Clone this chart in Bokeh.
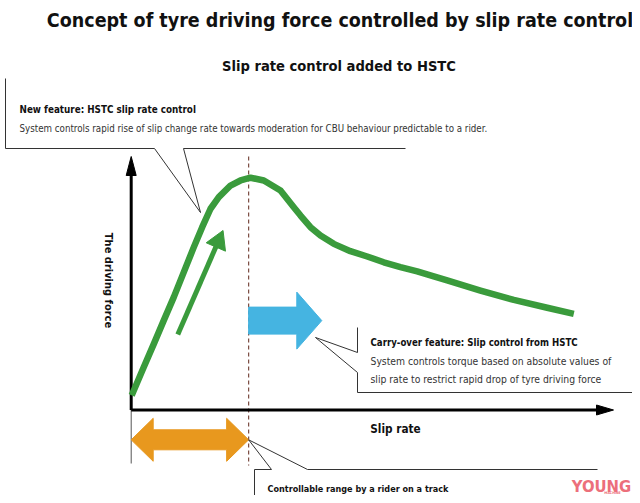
import numpy as np
from bokeh.plotting import figure
from bokeh.models import Range1d
from bokeh.core.properties import value
from bokeh.embed import file_html
from bokeh.resources import INLINE

# ---------------- data (conceptual units: 0..100 along each axis) ----------------
slip_rate = [0.10, 0.54, 2.62, 4.70, 6.77, 8.85, 10.93, 13.01, 14.75, 16.48, 18.20,
             20.63, 22.71, 24.79, 27.55, 31.02, 33.78, 35.18, 37.25, 39.33, 42.09,
             45.55, 49.03, 52.48, 55.94, 59.42, 62.87, 65.65, 72.57, 79.49, 86.43, 91.96]
driving_force = [5.8, 7.7, 17.0, 26.2, 35.5, 44.7, 54.6, 64.5, 72.4, 79.7, 84.3,
                 88.9, 90.9, 92.0, 90.9, 86.9, 80.3, 77.0, 72.4, 69.1, 65.8,
                 62.9, 60.8, 58.5, 56.6, 54.9, 52.9, 51.3, 47.3, 43.6, 40.5, 38.1]
peak_slip = 24.4                       # slip rate at peak driving force (dashed line)
controllable_range = [0.0, peak_slip]  # range controllable by rider
rise_arrow_slip = [9.68, 19.08]        # green "rise" arrow (tail, tip)
rise_arrow_force = [29.9, 71.1]
carry_arrow_slip = [peak_slip, 39.6]   # blue arrow (start, tip)
carry_arrow_force = 35.4

title_text = "Concept of tyre driving force controlled by slip rate control"
subtitle_text = "Slip rate control added to HSTC"
x_label = "Slip rate"
y_label = "The driving force"
new_head = "New feature: HSTC slip rate control"
new_body = "System controls rapid rise of slip change rate towards moderation for CBU behaviour predictable to a rider."
carry_head = "Carry-over feature: Slip control from HSTC"
carry_body = ["System controls torque based on absolute values of",
              "slip rate to restrict rapid drop of tyre driving force"]
range_text = "Controllable range by a rider on a track"

# ---------------- layout helpers (reference pixel <-> data units) ----------------
X0, Y0 = 130.7, 409.5
SX, SY = (612 - X0) / 100.0, (Y0 - 157) / 100.0
def px(X): return (X - X0) / SX
def py(Y): return (Y0 - Y) / SY
def dx(d): return d / SX
def dy(d): return d / SY
def upx(u): return X0 + u * SX
def upy(v): return Y0 - v * SY

FONT = "DejaVu Sans Condensed"
GREEN = "#3a9b3c"
BLUE = "#45b4e1"
ORANGE = "#e8981e"
LINE = "#333333"

W, H = 632, 495
p = figure(width=W, height=H, output_backend="svg", toolbar_location=None,
           x_range=Range1d(px(0), px(W)), y_range=Range1d(py(H), py(0)),
           min_border=0, outline_line_color=None)
p.axis.visible = False
p.grid.visible = False
p.background_fill_color = "white"
p.border_fill_color = "white"

def txt(x, y, s, size, bold=False, align="left", color="#111111", angle=0.0):
    p.text(x=[x], y=[y], text=[s], text_font=value(FONT), text_font_size=size,
           text_font_style="bold" if bold else "normal", text_align=align,
           text_baseline="middle", text_color=color, angle=angle)

# titles
txt(px(339.5), py(20), title_text, "19.5px", bold=True, align="center")
txt(px(338.5), py(65), subtitle_text, "14.6px", bold=True, align="center")

# callout 1 (new feature)
p.line([px(5), px(5), px(154), px(200), px(183), px(405)],
       [py(78), py(148), py(148), py(212), py(148), py(148)], line_color=LINE, line_width=1)
txt(px(19), py(109), new_head, "9.8px", bold=True)
txt(px(19), py(128), new_body, "9.7px", color="#333333")

# dashed peak line
p.line([peak_slip, peak_slip], [py(156), py(465)], line_color="#7a4a40", line_width=1.2,
       line_dash="4 3")

# thin guide at origin below x axis
p.line([0, 0], [0, py(463)], line_color="#555555", line_width=1)

# axes
p.line([0, 0], [0, py(172)], line_color="black", line_width=3)
p.patch([px(X0 - 5), px(X0), px(X0 + 5)], [py(175), py(156), py(175)], color="black")
p.line([0, px(598)], [0, 0], line_color="black", line_width=3)
p.patch([px(596), px(613), px(596)], [py(404.5), py(409.5), py(414.5)], color="black")
txt(px(395), py(428), x_label, "11.7px", bold=True, align="center")
txt(px(108), py(280), y_label, "11px", bold=True, align="center", angle=-np.pi / 2)

# main curve
p.line(slip_rate, driving_force, line_color=GREEN, line_width=6.5, line_join="round",
       line_cap="butt")

# green rise arrow (shaft + triangular head)
tx0, ty0 = upx(rise_arrow_slip[0]), upy(rise_arrow_force[0])
tx1, ty1 = upx(rise_arrow_slip[1]), upy(rise_arrow_force[1])
vx, vy = tx1 - tx0, ty1 - ty0
ln = np.hypot(vx, vy)
ux, uy = vx / ln, vy / ln
nx, ny = -uy, ux
HL, HW = 18.0, 10.5
bx, by = tx1 - HL * ux, ty1 - HL * uy
p.line([px(tx0), px(bx + ux)], [py(ty0), py(by + uy)], line_color=GREEN, line_width=5)
p.patch([px(tx1), px(bx + HW * nx), px(bx - HW * nx)],
        [py(ty1), py(by + HW * ny), py(by - HW * ny)], color=GREEN)

# blue carry-over arrow
a0, a1 = carry_arrow_slip
hl = dx(25)
p.patch([a0, a1 - hl, a1 - hl, a1, a1 - hl, a1 - hl, a0],
        [carry_arrow_force + dy(13.5), carry_arrow_force + dy(13.5), carry_arrow_force + dy(28.5),
         carry_arrow_force, carry_arrow_force - dy(28.5), carry_arrow_force - dy(13.5),
         carry_arrow_force - dy(13.5)], color=BLUE)

# callout 2 (carry-over)
p.line([px(357), px(357), px(315), px(357), px(357), px(640)],
       [py(327), py(352), py(337), py(372), py(392), py(392)], line_color=LINE, line_width=1)
txt(px(370), py(342), carry_head, "9.6px", bold=True)
txt(px(370), py(360), carry_body[0], "10.3px", color="#333333")
txt(px(370), py(378), carry_body[1], "10.3px", color="#333333")

# orange controllable range double arrow
r0, r1 = controllable_range
ay = py(439.3)
hh = dx(22)
p.patch([r0, r0 + hh, r0 + hh, r1 - hh, r1 - hh, r1, r1 - hh, r1 - hh, r0 + hh, r0 + hh],
        [ay, ay + dy(21.5), ay + dy(10), ay + dy(10), ay + dy(21.5), ay,
         ay - dy(21.5), ay - dy(10), ay - dy(10), ay - dy(21.5)], color=ORANGE)

# callout 3 (controllable range)
p.line([px(254), px(254), px(271), peak_slip, px(307), px(597)],
       [py(500), py(469), py(469), ay, py(469), py(469)], line_color=LINE, line_width=1)
txt(px(267), py(488), range_text, "9px", bold=True)

# watermark
txt(px(601), py(486), "YOUNG", "16.5px", bold=True, align="center", color="#ec6f7b")
txt(px(612), py(492.5), "MACHINE", "3.5px", bold=True, align="center", color="#ec6f7b")

open("out.html", "w").write(file_html(p, INLINE))
